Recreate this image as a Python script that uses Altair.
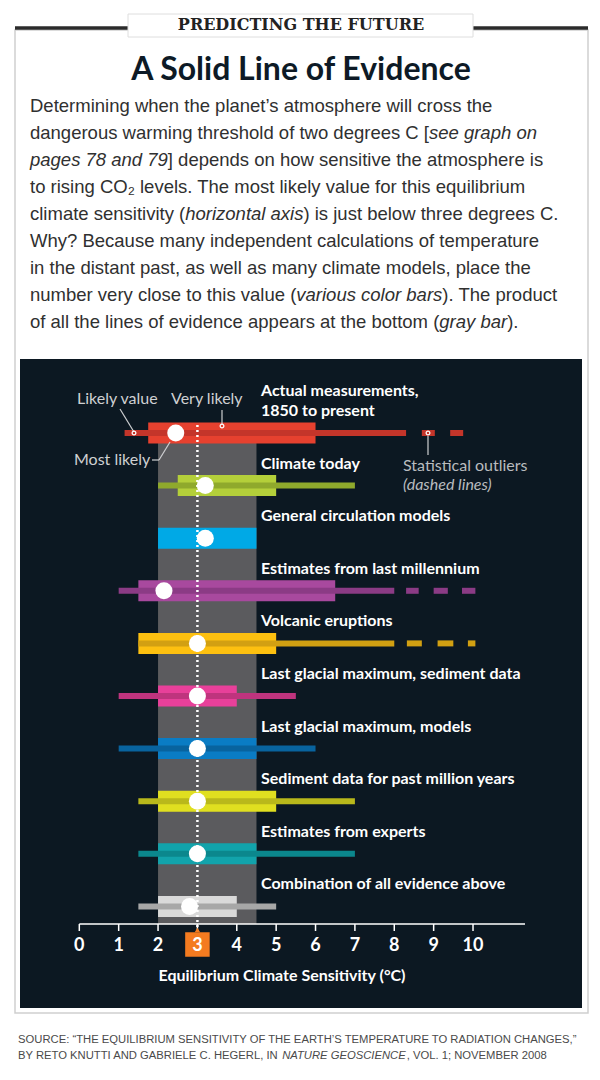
import altair as alt
import pandas as pd

W, H = 584, 1064          # chart size (page has 8px margin)
M = 8                     # offset from reference pixel coords

# ---------------- data ----------------
ROWS = ["Actual measurements,\n1850 to present", "Climate today", "General circulation models",
        "Estimates from last millennium", "Volcanic eruptions", "Last glacial maximum, sediment data",
        "Last glacial maximum, models", "Sediment data for past million years", "Estimates from experts",
        "Combination of all evidence above"]
THIN_LO = [1.15, 2.0, None, 1.0, 1.5, 1.0, 1.0, 1.5, 1.5, 1.5]
THIN_HI = [8.3, 7.0, None, 8.0, 8.0, 5.5, 6.0, 7.0, 7.0, 5.0]
THICK_LO = [1.75, 2.5, 2.0, 1.5, 1.5, 2.0, 2.0, 2.0, 2.0, 2.0]
THICK_HI = [6.0, 5.0, 4.5, 6.5, 5.0, 4.0, 4.5, 5.0, 4.5, 4.0]
BEST = [2.45, 3.2, 3.2, 2.15, 3.0, 3.0, 3.0, 3.0, 3.0, 2.8]
LIGHT = ["#e6412f", "#b4cf3a", "#00a9e6", "#a8499e", "#fdc010", "#e8409a",
         "#0a7cc4", "#e0df20", "#12a3ab", "#d9d9d9"]
DARK = ["#c4352a", "#8fa92c", "#00a9e6", "#8b3b85", "#d2a012", "#bf347e",
        "#08639e", "#b9b81b", "#0b878d", "#a7a7a7"]
OUT_ROW = [0, 0, 3, 3, 3, 4, 4, 4]
OUT_LO = [8.7, 9.42, 8.3, 9.0, 9.72, 8.32, 9.1, 9.87]
OUT_HI = [9.03, 9.75, 8.62, 9.36, 10.06, 8.7, 9.5, 10.06]
TICKS = list(range(11))
BAND = [2.0, 4.5]
MOST_LIKELY = 3

rows = pd.DataFrame({"idx": range(len(ROWS)), "label": ROWS, "thin_lo": THIN_LO, "thin_hi": THIN_HI,
                     "thick_lo": THICK_LO, "thick_hi": THICK_HI, "best": BEST,
                     "light": LIGHT, "dark": DARK})
thin = rows.dropna(subset=["thin_lo"])
outl = pd.DataFrame({"idx": OUT_ROW, "lo": OUT_LO, "hi": OUT_HI,
                     "dark": [DARK[i] for i in OUT_ROW]})
ticks = pd.DataFrame({"t": TICKS})
one = pd.DataFrame({"a": [0]})

# scales: value -> pixel mapping matching the reference geometry
xs = alt.Scale(domain=[-1.811, 13.022], range=[0, W], nice=False, zero=False)
ys = alt.Scale(domain=[-8.0798, 12.1483], range=[0, H], nice=False, zero=False)

def X(*a, **k):
    return alt.X(*a, scale=xs, axis=None, **k)

def Y(*a, **k):
    return alt.Y(*a, scale=ys, axis=None, **k)

# Liberation Sans (Arial/Helvetica metrics) advance widths, 1/1000 em, for laying out
# mixed roman/italic runs of text side by side.
_WID = {" ": 278, "!": 278, "(": 333, ")": 333, ",": 278, "-": 333, ".": 278, ":": 278, ";": 278,
        "?": 556, "[": 278, "]": 278, "’": 222, "“": 333, "”": 333, "'": 191}
for c in "0123456789":
    _WID[c] = 556
for c, w in zip("ABCDEFGHIJKLMNOPQRSTUVWXYZ",
                [667, 667, 722, 722, 667, 611, 778, 722, 278, 500, 667, 556, 833, 722, 778, 667, 778,
                 722, 667, 611, 722, 667, 944, 667, 667, 611]):
    _WID[c] = w
for c, w in zip("abcdefghijklmnopqrstuvwxyz",
                [556, 556, 500, 556, 556, 278, 556, 556, 222, 222, 500, 222, 833, 556, 556, 556, 556,
                 333, 500, 278, 556, 500, 722, 500, 500, 500]):
    _WID[c] = w

def tw(s, size):
    return sum(_WID.get(c, 556) for c in s) * size / 1000.0

LAT = "Lato"
SANS = "Liberation Sans"
layers = []

def txt(x, y, s, size=18, color="#333333", weight="normal", style="normal", align="left",
        font=LAT, baseline="middle"):
    layers.append(alt.Chart(one).mark_text(text=s, fontSize=size, color=color, fontWeight=weight,
                                           fontStyle=style, align=align, font=font, baseline=baseline)
                  .encode(x=alt.value(x - M), y=alt.value(y - M)))

def runs(x, y, parts, size, color, font=SANS):
    """parts: list of (text, italic?) laid out one after another."""
    for s, it in parts:
        txt(x, y, s, size=size, color=color, style="italic" if it else "normal", font=font)
        x += tw(s, size)

def rule(x1, y1, x2, y2, color, width=1.0):
    layers.append(alt.Chart(one).mark_rule(color=color, strokeWidth=width).encode(
        x=alt.value(x1 - M), x2=alt.value(x2 - M), y=alt.value(y1 - M), y2=alt.value(y2 - M)))

def rect(x1, y1, x2, y2, fill, stroke=None, sw=0):
    kw = dict(fill=fill)
    if stroke:
        kw.update(stroke=stroke, strokeWidth=sw)
    layers.append(alt.Chart(one).mark_rect(**kw).encode(
        x=alt.value(x1 - M), x2=alt.value(x2 - M), y=alt.value(y1 - M), y2=alt.value(y2 - M)))

# ---------------- page frame & header ----------------
rect(15, 30, 588, 1013, "#ffffff", "#cfcfcf", 1.5)
rule(15, 28, 128, 28, "#2b2b2b", 3.5)
rule(473, 28, 588, 28, "#2b2b2b", 3.5)
rect(128, 14, 473, 37, "#ffffff", "#dedede", 1)
txt(301, 25, "PREDICTING THE FUTURE", size=16, color="#222222", weight="bold",
    align="center", font="DejaVu Serif")
txt(301, 70, "A Solid Line of Evidence", size=32, color="#0d1a26", weight="bold", align="center")

# body paragraph
FIRST = "Determining when the planet’s atmosphere will cross the"
BS = 470.0 / (tw(FIRST, 1000) / 1000.0)      # size so first line spans like the reference
BS = min(BS, 18.5)
BC = "#303030"
L = [106, 133, 160, 187, 214, 241, 268, 295, 322]
PARA = [
    [(FIRST, False)],
    [("dangerous warming threshold of two degrees C [", False), ("see graph on", True)],
    [("pages 78 and 79", True), ("] depends on how sensitive the atmosphere is", False)],
    [("to rising CO₂ levels. The most likely value for this equilibrium", False)],
    [("climate sensitivity (", False), ("horizontal axis", True), (") is just below three degrees C.", False)],
    [("Why? Because many independent calculations of temperature", False)],
    [("in the distant past, as well as many climate models, place the", False)],
    [("number very close to this value (", False), ("various color bars", True), ("). The product", False)],
    [("of all the lines of evidence appears at the bottom (", False), ("gray bar", True), (").", False)],
]
for yy, parts in zip(L, PARA):
    runs(30, yy, parts, BS, BC)

# ---------------- dark panel ----------------
rect(20, 359, 582, 1008, "#0c1822")

layers.append(alt.Chart(one).mark_rect(color="#5b5b5e").encode(
    x=X(datum=BAND[0]), x2=alt.X2(datum=BAND[1]), y=alt.value(430 - M), y2=alt.value(924 - M)))

bars = alt.Chart(rows).mark_rule(strokeWidth=21, strokeCap="butt").encode(
    x=X("thick_lo:Q"), x2="thick_hi:Q", y=Y("idx:Q"), color=alt.Color("light:N", scale=None))
thins = alt.Chart(thin).mark_rule(strokeWidth=6, strokeCap="butt").encode(
    x=X("thin_lo:Q"), x2="thin_hi:Q", y=Y("idx:Q"), color=alt.Color("dark:N", scale=None))
outs = alt.Chart(outl).mark_rule(strokeWidth=6, strokeCap="butt").encode(
    x=X("lo:Q"), x2="hi:Q", y=Y("idx:Q"), color=alt.Color("dark:N", scale=None))
layers += [bars, thins, outs]

layers.append(alt.Chart(one).mark_rule(color="white", strokeWidth=2.5, strokeDash=[2, 3]).encode(
    x=X(datum=MOST_LIKELY), y=alt.value(425 - M), y2=alt.value(932 - M)))

dots = alt.Chart(rows).mark_circle(size=290, color="white", opacity=1).encode(
    x=X("best:Q"), y=Y("idx:Q"))
layers.append(dots)

labels = alt.Chart(rows).transform_calculate(
    ly="datum.idx - (split(datum.label, '\\n').length - 1) * 0.38"
).mark_text(align="left", baseline="bottom", dy=-14, font=LAT, fontSize=16,
            fontWeight="bold", color="white", lineBreak="\n", lineHeight=20).encode(
    x=alt.value(261 - M), y=Y("ly:Q"), text="label:N")
layers.append(labels)

# ---------------- annotations ----------------
AC = "#cfd0d2"
txt(77, 399, "Likely value", size=16, color=AC)
txt(171, 399, "Very likely", size=16, color=AC)
txt(74, 460, "Most likely", size=16, color=AC)
rule(120, 409, 134, 432, AC, 1.2)
rule(222, 410, 222, 425, AC, 1.2)
rule(152, 460, 159, 460, AC, 1.2)
rule(159, 460, 170, 442, AC, 1.2)
rule(428, 436, 428, 455, AC, 1.2)
txt(403, 466, "Statistical outliers", size=16, color="#b9bcbf")
txt(403, 485, "(dashed lines)", size=16, color="#b9bcbf", style="italic")
for (cx, cy) in [(134, 433), (222, 426), (428, 433)]:
    layers.append(alt.Chart(one).mark_point(shape="circle", filled=False, stroke="white",
                                            strokeWidth=1.2, size=14, opacity=1).encode(
        x=alt.value(cx - M), y=alt.value(cy - M)))

# ---------------- axis ----------------
layers.append(alt.Chart(one).mark_rule(color="white", strokeWidth=1.5).encode(
    x=X(datum=0), x2=alt.value(525 - M), y=alt.value(924 - M)))
layers.append(alt.Chart(ticks).mark_rule(color="white", strokeWidth=1.5).encode(
    x=X("t:Q"), y=alt.value(924 - M), y2=alt.value(931 - M)))
layers.append(alt.Chart(one).mark_square(size=600, color="#f47b20", opacity=1).encode(
    x=X(datum=MOST_LIKELY), y=alt.value(944.5 - M)))
layers.append(alt.Chart(one).mark_point(shape="triangle-up", size=30, filled=True, color="#f47b20",
                                        opacity=1).encode(
    x=X(datum=MOST_LIKELY), y=alt.value(930 - M)))
layers.append(alt.Chart(ticks).mark_text(font=LAT, fontSize=18, fontWeight="bold", color="white",
                                         baseline="middle", align="center").encode(
    x=X("t:Q"), y=alt.value(946 - M), text="t:Q"))
txt(282, 976, "Equilibrium Climate Sensitivity (°C)", size=16, color="white", weight="bold",
    align="center")

# ---------------- source ----------------
SRC1 = "SOURCE: “THE EQUILIBRIUM SENSITIVITY OF THE EARTH’S TEMPERATURE TO RADIATION CHANGES,”"
SS = 562.0 / (tw(SRC1, 1000) / 1000.0)
SC = "#4a4a4a"
runs(18, 1040, [(SRC1, False)], SS, SC)
runs(18, 1056, [("BY RETO KNUTTI AND GABRIELE C. HEGERL, IN ", False), ("NATURE GEOSCIENCE", True),
                (", VOL. 1; NOVEMBER 2008", False)], SS, SC)

chart = alt.layer(*layers).properties(
    width=W, height=H, padding=0, autosize=alt.AutoSizeParams(type="none"), background="white"
).configure_view(stroke=None)

chart.save("out.html", embed_options={"renderer": "svg", "actions": False})
